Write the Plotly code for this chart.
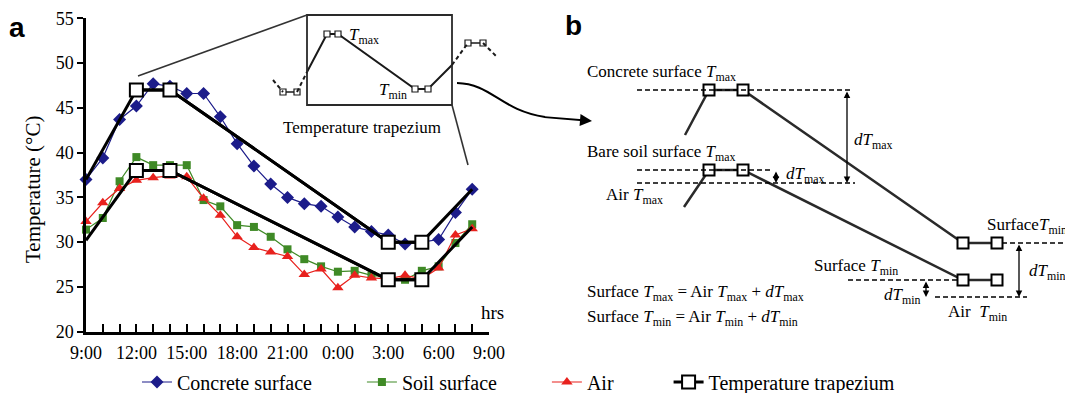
import plotly.graph_objects as go

# ---------------- data (panel a) ----------------
hours = list(range(24))                      # 0 = 9:00 ... 23 = 8:00 next day
tick_hours = list(range(25))
tick_text = {0: "9:00", 3: "12:00", 6: "15:00", 9: "18:00", 12: "21:00",
             15: "0:00", 18: "3:00", 21: "6:00", 24: "9:00"}
tick_labels = [tick_text.get(h, "") for h in tick_hours]

concrete = [37.0, 39.4, 43.7, 45.2, 47.7, 47.4, 46.6, 46.6, 44.0, 41.0, 38.5, 36.5,
            35.0, 34.3, 34.0, 32.8, 31.7, 31.2, 30.8, 29.8, 30.0, 30.3, 33.3, 35.9]
soil = [31.4, 32.7, 36.8, 39.5, 38.6, 38.6, 38.6, 34.7, 34.0, 31.9, 31.7, 30.6,
        29.2, 28.1, 27.3, 26.7, 26.8, 26.3, 26.1, 25.8, 26.8, 27.3, 29.9, 32.0]
air = [32.3, 34.4, 36.0, 36.9, 37.2, 37.4, 37.3, 34.9, 33.0, 30.6, 29.4, 28.9,
       28.4, 26.4, 27.0, 24.9, 26.3, 26.0, 25.9, 26.3, 25.9, 27.1, 30.8, 31.5]

trap_x = [0, 3, 5, 18, 20, 23]
trap_concrete = [37.0, 47.0, 47.0, 30.0, 30.0, 35.9]
trap_soil = [30.2, 38.0, 38.0, 25.8, 25.8, 31.7]

# ---------------- schematic geometry (inset + panel b, drawing units) ----------------
inset_box = [307, 15, 452, 105]
inset_solid_x = [307, 327, 338, 415, 428, 452]
inset_solid_y = [72, 34, 34, 89, 89, 65]
inset_sq_x = [283, 297, 327, 338, 415, 428, 468, 483]
inset_sq_y = [92, 92, 34, 34, 89, 89, 43, 43]
inset_dash = [(273, 80, 283, 92), (297, 92, 307, 72), (452, 65, 468, 43), (483, 43, 497, 57)]
inset_zoom_lines = [(138, 76, 307, 15), (452, 105, 468, 165)]

b_conc_x = [685, 709, 743, 963, 997]
b_conc_y = [135, 90, 90, 243, 243]
b_soil_x = [684, 709, 743, 963, 997]
b_soil_y = [207, 170, 170, 280, 280]
b_dash = [(637, 90, 853, 90), (637, 170, 770, 170), (637, 183, 855, 183),
          (1002, 243, 1070, 243), (848, 280, 960, 280), (935, 297, 1027, 297)]
b_arrows = [(847, 90, 847, 183), (776, 170, 776, 183), (1019, 243, 1019, 297), (926, 280, 926, 297)]

SERIF = "Liberation Serif"
NAVY = "#1c1c8a"
GREEN = "#3f8a26"
RED = "#e8211d"

fig = go.Figure()

# panel a series
fig.add_trace(go.Scatter(x=hours, y=concrete, mode="lines+markers",
                         name="Concrete surface" + "\u00a0" * 9,
                         line=dict(color=NAVY, width=1.2),
                         marker=dict(symbol="diamond", size=10, color=NAVY),
                         cliponaxis=False))
fig.add_trace(go.Scatter(x=hours, y=soil, mode="lines+markers",
                         name="Soil surface" + "\u00a0" * 9,
                         line=dict(color=GREEN, width=1.2),
                         marker=dict(symbol="square", size=8, color=GREEN),
                         cliponaxis=False))
fig.add_trace(go.Scatter(x=hours, y=air, mode="lines+markers",
                         name="Air" + "\u00a0" * 10,
                         line=dict(color=RED, width=1.2),
                         marker=dict(symbol="triangle-up", size=10, color=RED),
                         cliponaxis=False))
for i, tr in enumerate([trap_concrete, trap_soil]):
    fig.add_trace(go.Scatter(x=trap_x, y=tr, mode="lines", showlegend=False,
                             line=dict(color="black", width=3), cliponaxis=False,
                             hoverinfo="skip"))
    fig.add_trace(go.Scatter(x=trap_x[1:5], y=tr[1:5], mode="lines+markers",
                             name="Temperature trapezium", showlegend=(i == 0),
                             line=dict(color="black", width=3),
                             marker=dict(symbol="square", size=13, color="white",
                                         line=dict(color="black", width=2)),
                             cliponaxis=False))

# schematic traces (x2/y2 drawing axes)
fig.add_trace(go.Scatter(x=inset_solid_x, y=inset_solid_y, mode="lines", xaxis="x2", yaxis="y2",
                         line=dict(color="#1a1a1a", width=2), showlegend=False, hoverinfo="skip"))
for (xa, xb, y) in [(283, 297, 92), (468, 483, 43)]:
    fig.add_trace(go.Scatter(x=[xa, xb], y=[y, y], mode="lines", xaxis="x2", yaxis="y2",
                             line=dict(color="#1a1a1a", width=1.5), showlegend=False, hoverinfo="skip"))
fig.add_trace(go.Scatter(x=inset_sq_x, y=inset_sq_y, mode="markers", xaxis="x2", yaxis="y2",
                         marker=dict(symbol="square", size=6, color="white",
                                     line=dict(color="#1a1a1a", width=1.2)),
                         showlegend=False, hoverinfo="skip"))
for bx, by in [(b_conc_x, b_conc_y), (b_soil_x, b_soil_y)]:
    fig.add_trace(go.Scatter(x=bx, y=by, mode="lines+markers", xaxis="x2", yaxis="y2",
                             line=dict(color="#2a2a2a", width=2.5),
                             marker=dict(symbol="square", size=11, color="white",
                                         opacity=[0, 1, 1, 1, 1],
                                         line=dict(color="black", width=2)),
                             showlegend=False, hoverinfo="skip"))

shapes = []
x0, y0, x1, y1 = inset_box
shapes.append(dict(type="rect", xref="x2", yref="y2", x0=x0, y0=y0, x1=x1, y1=y1,
                   line=dict(color="#2a2a2a", width=1.8)))
for (xa, ya, xb, yb) in inset_zoom_lines:
    shapes.append(dict(type="line", xref="x2", yref="y2", x0=xa, y0=ya, x1=xb, y1=yb,
                       line=dict(color="#333333", width=1.6)))
for (xa, ya, xb, yb) in inset_dash:
    shapes.append(dict(type="line", xref="x2", yref="y2", x0=xa, y0=ya, x1=xb, y1=yb,
                       line=dict(color="#1a1a1a", width=2, dash="4px,3px")))
for (xa, ya, xb, yb) in b_dash:
    shapes.append(dict(type="line", xref="x2", yref="y2", x0=xa, y0=ya, x1=xb, y1=yb,
                       line=dict(color="black", width=1.6, dash="5px,3px")))
shapes.append(dict(type="path", xref="x2", yref="y2",
                   path="M 457,83 C 492,84 500,110 545,117",
                   line=dict(color="black", width=2)))

annotations = []
for (xa, ya, xb, yb) in b_arrows:
    annotations.append(dict(x=xb, y=yb, ax=xa, ay=ya, xref="x2", yref="y2", axref="x2", ayref="y2",
                            text="", showarrow=True, arrowhead=2, arrowsize=1, arrowwidth=1.3,
                            arrowside="end+start", arrowcolor="black"))
annotations.append(dict(x=592, y=121, ax=543, ay=117, xref="x2", yref="y2", axref="x2", ayref="y2",
                        text="", showarrow=True, arrowhead=2, arrowsize=1.2, arrowwidth=2,
                        arrowcolor="black"))

def txt(x, y, s, size=17, xanchor="left", family=SERIF, color="black"):
    annotations.append(dict(x=x, y=y, xref="x2", yref="y2", text=s, showarrow=False,
                            xanchor=xanchor, yanchor="middle",
                            font=dict(family=family, size=size, color=color)))

Tmax = "<i>T</i><sub>max</sub>"
Tmin = "<i>T</i><sub>min</sub>"
txt(17, 27, "<b>a</b>", size=28, xanchor="center", family="Liberation Sans")
txt(573, 25, "<b>b</b>", size=28, xanchor="center", family="Liberation Sans")
txt(492, 312, "hrs", size=19, xanchor="center")
txt(347, 36, Tmax, size=17)
txt(377, 91, Tmin, size=17)
txt(362, 127, "Temperature trapezium", size=17, xanchor="center")
txt(585, 73, "Concrete surface " + Tmax)
txt(852, 141, "<i>dT</i><sub>max</sub>")
txt(585, 153, "Bare soil surface " + Tmax)
txt(784, 175, "<i>dT</i><sub>max</sub>")
txt(604, 196, "Air " + Tmax)
txt(985, 226, "Surface" + Tmin)
txt(1027, 272, "<i>dT</i><sub>min</sub>")
txt(812, 267, "Surface " + Tmin)
txt(882, 296, "<i>dT</i><sub>min</sub>")
txt(946, 313, "Air\u00a0\u00a0" + Tmin)
txt(585, 293, "Surface " + Tmax + " = Air " + Tmax + " + <i>dT</i><sub>max</sub>")
txt(585, 318, "Surface " + Tmin + " = Air " + Tmin + " + <i>dT</i><sub>min</sub>")

# y-axis title
annotations.append(dict(x=33, y=190, xref="x2", yref="y2", text="Temperature (°C)", textangle=-90,
                        showarrow=False, xanchor="center", yanchor="middle",
                        font=dict(family=SERIF, size=21, color="black")))

W, H = 1065, 393
fig.update_layout(
    width=W, height=H,
    margin=dict(l=0, r=0, t=0, b=0, autoexpand=False),
    paper_bgcolor="white", plot_bgcolor="rgba(0,0,0,0)",
    font=dict(family=SERIF, size=18, color="black"),
    xaxis=dict(domain=[86 / W, 489 / W], range=[0, 24], tickvals=tick_hours, ticktext=tick_labels,
               ticks="inside", ticklen=8, tickwidth=2, tickcolor="black",
               showline=True, linewidth=2.5, linecolor="black", showgrid=False, zeroline=False,
               tickfont=dict(family=SERIF, size=18), ticklabelstandoff=3, anchor="y"),
    yaxis=dict(domain=[1 - 331.7 / H, 1 - 18.3 / H], range=[20, 55], dtick=5,
               ticks="outside", ticklen=6, tickwidth=2, tickcolor="black",
               showline=True, linewidth=2.5, linecolor="black", showgrid=False, zeroline=False,
               tickfont=dict(family=SERIF, size=18), anchor="x"),
    xaxis2=dict(domain=[0, 1], range=[0, W], visible=False, anchor="y2", fixedrange=True),
    yaxis2=dict(domain=[0, 1], range=[H, 0], visible=False, anchor="x2", fixedrange=True),
    showlegend=True,
    legend=dict(orientation="h", x=137 / W, xanchor="left", y=11 / H, yanchor="middle",
                font=dict(family=SERIF, size=20), bgcolor="rgba(0,0,0,0)",
                itemwidth=30, tracegroupgap=0, borderwidth=0),
    shapes=shapes, annotations=annotations,
)

fig.write_html("out.html", config={"displayModeBar": False},
               post_script="document.body.style.margin='0';document.body.style.overflow='hidden';")
